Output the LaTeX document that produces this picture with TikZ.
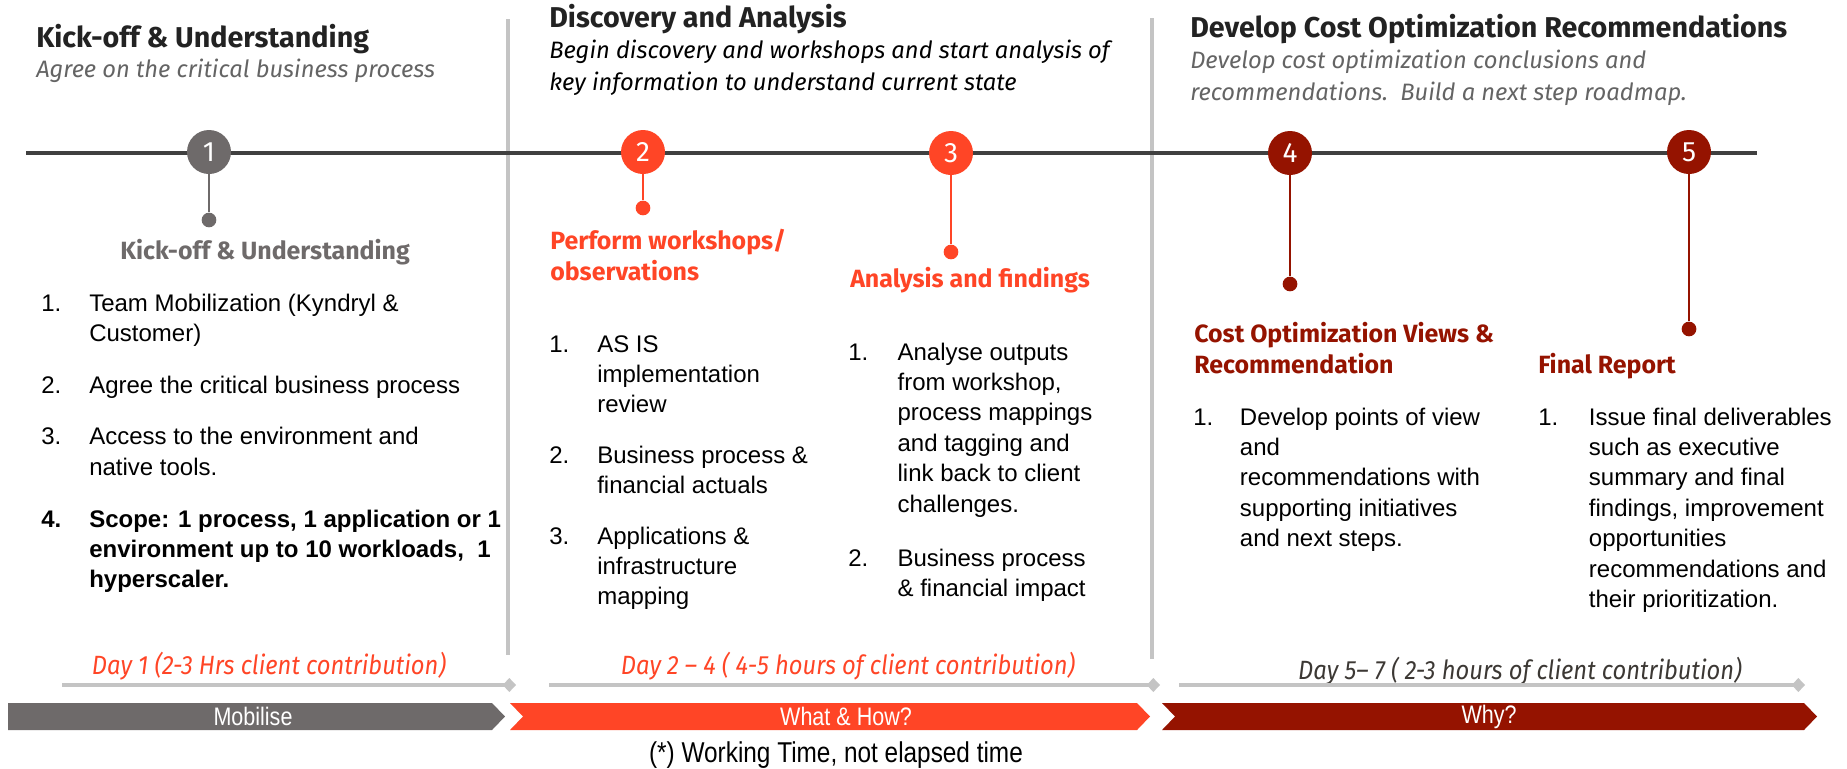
\documentclass[tikz,border=0pt]{standalone}
\usepackage{fontspec}
\usepackage{array}
\setmainfont{Liberation Sans}
\newfontfamily\plexfont{Fira Sans}
\newfontfamily\condfont[FakeStretch=0.9]{Fira Sans}
\newfontfamily\narrowfont[FakeStretch=0.85]{Liberation Sans}
\usetikzlibrary{arrows.meta}

\definecolor{mobgrey}{RGB}{110,106,106}
\definecolor{whatred}{RGB}{255,69,38}
\definecolor{whyred}{RGB}{149,19,0}
\definecolor{axisgrey}{RGB}{64,64,64}
\definecolor{sepgrey}{RGB}{196,196,196}
\definecolor{headblack}{RGB}{34,34,34}
\definecolor{subgrey}{RGB}{100,100,100}
\definecolor{daygrey}{RGB}{60,56,52}

\begin{document}
\begin{tikzpicture}[x=0.75pt,y=-0.75pt,
	phase/.style={anchor=base west,inner sep=0,text=headblack,font=\plexfont\fontsize{21.5}{26}\selectfont\bfseries},
	phasesub/.style={anchor=base west,inner sep=0,align=left,font=\plexfont\fontsize{17.8}{24}\selectfont\itshape},
	milestone/.style={circle,fill=#1,text=white,inner sep=0,minimum size=33pt,font=\plexfont\fontsize{21}{21}\selectfont},
	tack/.style={circle,fill=#1,inner sep=0,minimum size=11pt},
	stemline/.style={draw=#1,line width=2pt},
	steptitle/.style={anchor=base west,inner sep=0,align=left,text=#1,font=\plexfont\fontsize{18.7}{23.25}\selectfont\bfseries},
	tasks/.style={anchor=base west,inner sep=0,font=\fontsize{18}{22.8}\selectfont},
	daylabel/.style={inner sep=0,text=#1,font=\condfont\fontsize{19.8}{22}\selectfont\itshape},
	spanarrow/.style={draw=sepgrey,line width=3pt,-{Diamond[length=10pt,width=10.5pt]}},
	barlabel/.style={inner sep=0,text=white,font=\narrowfont\fontsize{19}{20}\selectfont},
	divider/.style={draw=sepgrey,line width=2.5pt}]

	\useasboundingbox (0,0) rectangle (1847,768);

	% phase headers
	\node[phase] (head1) at (36,47) {Kick-off \& Understanding};
	\node[phasesub,text=subgrey] (sub1) at (36,77) {Agree on the critical business process};
	\node[phase] (head2) at (549,27) {Discovery and Analysis};
	\node[phasesub,text=black] (sub2) at (549,90) {Begin discovery and workshops and start analysis of\\key information to understand current state};
	\node[phase] (head3) at (1190,37) {Develop Cost Optimization Recommendations};
	\node[phasesub,text=subgrey] (sub3) at (1190,100) {Develop cost optimization conclusions and\\recommendations.\ \ Build a next step roadmap.};

	\coordinate (div1top) at (508,19);
	\coordinate (div1bot) at (508,655);
	\coordinate (div2top) at (1152,18);
	\coordinate (div2bot) at (1152,659);
	\draw[divider] (div1top) -- (div1bot);
	\draw[divider] (div2top) -- (div2bot);

	% time line
	\coordinate (axisL) at (26,153);
	\coordinate (axisR) at (1757,153);
	\draw[axisgrey,line width=3pt] (axisL) -- (axisR);

	\node[milestone=mobgrey] (m1) at (209,152) {1};
	\node[milestone=whatred] (m2) at (643,152) {2};
	\node[milestone=whatred] (m3) at (951,153) {3};
	\node[milestone=whyred] (m4) at (1290,153) {4};
	\node[milestone=whyred] (m5) at (1689,152) {5};

	\node[tack=mobgrey] (t1) at (209,220) {};
	\node[tack=whatred] (t2) at (643,208) {};
	\node[tack=whatred] (t3) at (951,252) {};
	\node[tack=whyred] (t4) at (1290,284) {};
	\node[tack=whyred] (t5) at (1689,329) {};

	\draw[stemline=mobgrey] (m1) -- (t1);
	\draw[stemline=whatred] (m2) -- (t2);
	\draw[stemline=whatred] (m3) -- (t3);
	\draw[stemline=whyred] (m4) -- (t4);
	\draw[stemline=whyred] (m5) -- (t5);

	% step titles
	\node[steptitle=mobgrey,anchor=base] (s1) at (265,259) {Kick-off \& Understanding};
	\node[steptitle=whatred] (s2) at (550,280) {Perform workshops/\\observations};
	\node[steptitle=whatred] (s3) at (850,287) {Analysis and findings};
	\node[steptitle=whyred] (s4) at (1194,373) {Cost Optimization Views \&\\Recommendation};
	\node[steptitle=whyred] (s5) at (1538,373) {Final Report};

	% task lists
	\node[tasks] (list1) at (41,311) {\begin{tabular}[t]{@{}p{36pt}@{}p{330pt}@{}}
		1. & Team Mobilization (Kyndryl \&\newline Customer)\\\noalign{\vskip16pt}
		2. & Agree the critical business process\\\noalign{\vskip16pt}
		3. & Access to the environment and\newline native tools.\\\noalign{\vskip16pt}
		\bfseries 4. & \bfseries Scope: 1 process, 1 application or 1\newline environment up to 10 workloads,\ \ 1\newline hyperscaler.
	\end{tabular}};
	\node[tasks] (list2) at (549,352) {\begin{tabular}[t]{@{}p{36pt}@{}p{200pt}@{}}
		1. & AS IS\newline implementation\newline review\\\noalign{\vskip15pt}
		2. & Business process \&\newline financial actuals\\\noalign{\vskip15pt}
		3. & Applications \&\newline infrastructure\newline mapping
	\end{tabular}};
	\node[tasks] (list3) at (848,360) {\begin{tabular}[t]{@{}p{37pt}@{}p{200pt}@{}}
		1. & Analyse outputs\newline from workshop,\newline process mappings\newline and tagging and\newline link back to client\newline challenges.\\\noalign{\vskip18pt}
		2. & Business process\newline \& financial impact
	\end{tabular}};
	\node[tasks] (list4) at (1193,425) {\begin{tabular}[t]{@{}p{35pt}@{}p{220pt}@{}}
		1. & Develop points of view\newline and\newline recommendations with\newline supporting initiatives\newline and next steps.
	\end{tabular}};
	\node[tasks] (list5) at (1538,425) {\begin{tabular}[t]{@{}p{38pt}@{}p{200pt}@{}}
		1. & Issue final deliverables\newline such as executive\newline summary and final\newline findings, improvement\newline opportunities\newline recommendations and\newline their prioritization.
	\end{tabular}};

	% durations
	\node[daylabel=whatred] (day1) at (269,666) {Day 1 (2-3 Hrs client contribution)};
	\node[daylabel=whatred] (day2) at (848,666) {Day 2 \textendash{} 4 ( 4-5 hours of client contribution)};
	\node[daylabel=daygrey] (day3) at (1520,671) {Day 5\textendash{} 7 ( 2-3 hours of client contribution)};

	\coordinate (span1L) at (62,685);
	\coordinate (span1R) at (516,685);
	\coordinate (span2L) at (549,685);
	\coordinate (span2R) at (1160,685);
	\coordinate (span3L) at (1179,685);
	\coordinate (span3R) at (1805,685);
	\draw[spanarrow] (span1L) -- (span1R);
	\draw[spanarrow] (span2L) -- (span2R);
	\draw[spanarrow] (span3L) -- (span3R);

	% chevrons
	\fill[mobgrey] (8,703) -- (492,703) -- (505,716.5) -- (492,730) -- (8,730) -- cycle;
	\fill[whatred] (510,703) -- (1137,703) -- (1150,716.5) -- (1137,730) -- (510,730) -- (523,716.5) -- cycle;
	\fill[whyred] (1162,703) -- (1804,703) -- (1817,716.5) -- (1804,730) -- (1162,730) -- (1175,716.5) -- cycle;
	\node[barlabel] (bar1) at (253,716.5) {Mobilise};
	\node[barlabel] (bar2) at (846,716.5) {What \& How?};
	\node[barlabel] (bar3) at (1489,716.5) {Why?};

	\node[inner sep=0,font=\narrowfont\fontsize{21.5}{24}\selectfont] (note) at (836,755) {(*) Working Time, not elapsed time};
\end{tikzpicture}
\end{document}
